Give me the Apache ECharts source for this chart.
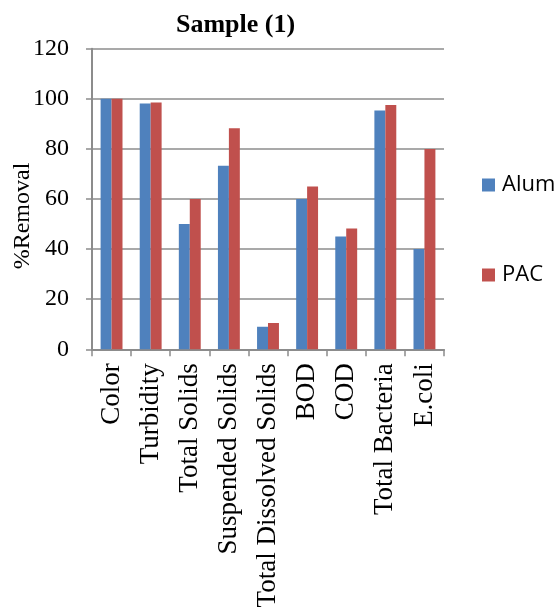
<!DOCTYPE html>
<html>
<head>
<meta charset="utf-8">
<script src="https://cdn.jsdelivr.net/npm/echarts@6/dist/echarts.min.js"></script>
<style>
  html, body { margin: 0; padding: 0; background: #fff; }
  #chart { width: 560px; height: 609px; }
</style>
</head>
<body>
<div id="chart"></div>
<script>
// Water-quality parameters and their % removal by coagulant
const categories = ['Color', 'Turbidity', 'Total Solids', 'Suspended Solids',
  'Total Dissolved Solids', 'BOD', 'COD', 'Total Bacteria', 'E.coli'];
const alumValues = [100, 98.1, 50, 73.3, 9, 60, 45, 95.3, 40];
const pacValues = [100, 98.5, 60, 88.2, 10.5, 65, 48.2, 97.5, 80];
const yTicks = [0, 20, 40, 60, 80, 100, 120];

const serif = 'Liberation Serif';
const gray = '#8c8c8c';

const chart = echarts.init(document.getElementById('chart'), null, { renderer: 'canvas' });
chart.setOption({
  backgroundColor: '#ffffff',
  animation: false,
  title: {
    text: 'Sample (1)',
    left: 171,
    top: 7,
    textStyle: { fontFamily: serif, fontWeight: 'bold', fontSize: 26, color: '#000' }
  },
  legend: {
    orient: 'vertical',
    left: 477,
    top: 168,
    itemGap: 66,
    itemWidth: 13,
    itemHeight: 13,
    icon: 'rect',
    textStyle: { fontFamily: 'Open Sans', fontSize: 22, color: '#000', lineHeight: 24, padding: [0, 0, 0, 2] },
    data: ['Alum', 'PAC']
  },
  grid: {
    left: 92, right: 116, top: 48.7, bottom: 259.7,
    containLabel: false, outerBoundsMode: 'none'
  },
  xAxis: {
    type: 'category',
    data: categories,
    axisLine: { lineStyle: { color: gray, width: 2 } },
    axisTick: { show: true, length: 7, lineStyle: { color: gray, width: 1.5 } },
    axisLabel: {
      rotate: 90, margin: 14, interval: 0,
      fontFamily: serif, fontSize: 27, color: '#000'
    }
  },
  yAxis: {
    type: 'value',
    min: yTicks[0],
    max: yTicks[yTicks.length - 1],
    interval: yTicks[1] - yTicks[0],
    name: '%Removal',
    nameLocation: 'middle',
    nameGap: 57,
    nameMoveOverlap: false,
    nameRotate: 90,
    nameTextStyle: { fontFamily: serif, fontSize: 24, color: '#000', padding: [0, 34, 0, 0] },
    axisLine: { show: true, lineStyle: { color: gray, width: 2 } },
    axisTick: { show: true, length: 6, lineStyle: { color: gray, width: 1.5 } },
    axisLabel: { margin: 23, fontFamily: serif, fontSize: 24, color: '#000' },
    splitLine: { lineStyle: { color: gray, width: 1.5 } }
  },
  series: [
    {
      name: 'Alum', type: 'bar', data: alumValues,
      barGap: '0%', barCategoryGap: '44%',
      itemStyle: { color: '#4F81BD' }
    },
    {
      name: 'PAC', type: 'bar', data: pacValues,
      itemStyle: { color: '#C0504D' }
    }
  ]
});
</script>
</body>
</html>
